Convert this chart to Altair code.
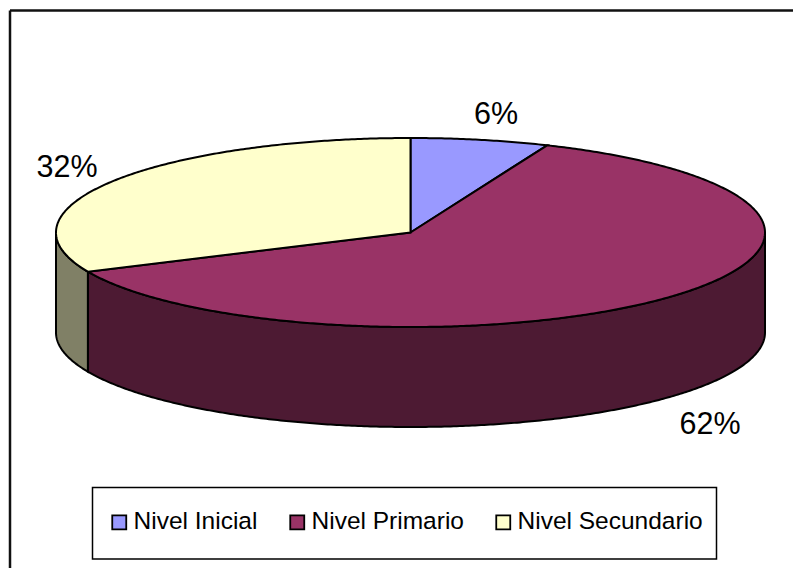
import math
import altair as alt

categories = ["Nivel Inicial", "Nivel Primario", "Nivel Secundario"]
shares = [6.3, 61.9, 31.8]
labels = ["6%", "62%", "32%"]
top_colors = ["#9999FF", "#993366", "#FFFFCC"]
side_colors = ["#4D4D80", "#4D1A33", "#808066"]

CX, CY, RX, RY, DEPTH = 410.5, 232.5, 354.5, 94.5, 100
OX, OY = 8, 8


def pt(deg, dy=0):
    r = math.radians(deg)
    return [CX + RX * math.sin(r) - OX, CY - RY * math.cos(r) + dy - OY]


def arc(a, b):
    n = max(2, int(abs(b - a) * 2))
    return [a + (b - a) * i / n for i in range(n + 1)]


def feature(ring, cat, kind):
    return {
        "type": "Feature",
        "geometry": {"type": "Polygon", "coordinates": [ring + [ring[0]]]},
        "properties": {"categoria": cat, "kind": kind},
    }


edges = [0.0]
for s in shares:
    edges.append(edges[-1] + s * 3.6)

tops, sides = [], []
for i, cat in enumerate(categories):
    a, b = edges[i], edges[i + 1]
    centre = [CX - OX, CY - OY]
    tops.append(feature([centre] + [pt(d) for d in arc(a, b)], cat, "top"))
    lo, hi = max(a, 90.0), min(b, 270.0)
    if hi > lo:
        angs = arc(lo, hi)
        ring = [pt(d) for d in angs] + [pt(d, DEPTH) for d in reversed(angs)]
        sides.append(feature(ring, cat, "side"))

proj = dict(type="identity", scale=1, translate=[0, 0])
scale = alt.Scale(domain=categories, range=top_colors)
side_scale = alt.Scale(domain=categories, range=side_colors)

legend = alt.Legend(
    title=None,
    orient="none",
    legendX=99,
    legendY=502,
    direction="horizontal",
    columns=3,
    symbolType="square",
    symbolSize=196,
    symbolStrokeColor="black",
    symbolStrokeWidth=1.8,
    labelFont="Liberation Sans",
    labelFontSize=24.5,
    labelColor="black",
    labelLimit=300,
    labelOffset=2,
    columnPadding=27,
    padding=0,
)

side = (
    alt.Chart(alt.Data(values=sides))
    .mark_geoshape(stroke="black", strokeWidth=2)
    .encode(
        color=alt.Color("properties.categoria:N", scale=side_scale, legend=None),
    )
    .project(**proj)
)
top = (
    alt.Chart(alt.Data(values=tops))
    .mark_geoshape(stroke="black", strokeWidth=2)
    .encode(
        fill=alt.Fill("properties.categoria:N", scale=scale, legend=legend),
    )
    .project(**proj)
)

label_x = [496, 710, 67]
label_y = [115, 425, 168]
text = (
    alt.Chart(alt.Data(values=[
        {"t": t, "px": x - OX, "py": y - OY}
        for t, x, y in zip(labels, label_x, label_y)
    ]))
    .mark_text(font="Liberation Sans", fontSize=30.5, color="black", baseline="middle")
    .encode(
        x=alt.X("px:Q", scale=None),
        y=alt.Y("py:Q", scale=None),
        text="t:N",
    )
)

one = alt.Data(values=[{"a": 1}])
frame_top = alt.Chart(one).mark_rule(color="#111111", strokeWidth=2.5).encode(
    x=alt.value(2), x2=alt.value(785), y=alt.value(2.5)
)
frame_left = alt.Chart(one).mark_rule(color="#111111", strokeWidth=2.5).encode(
    x=alt.value(2), y=alt.value(2.5), y2=alt.value(560)
)
legend_box = alt.Chart(one).mark_rect(fill="white", stroke="black", strokeWidth=1.5).encode(
    x=alt.value(84.5), x2=alt.value(708.5), y=alt.value(479.5), y2=alt.value(551)
)

chart = (
    alt.layer(frame_top, frame_left, legend_box, side, top, text)
    .resolve_scale(color="independent", fill="independent")
    .properties(
        width=785,
        height=560,
        padding=0,
        autosize=alt.AutoSizeParams(type="none"),
        background="white",
    )
    .configure_view(stroke=None)
)
chart.save("out.html", embed_options={"renderer": "svg", "actions": False})
